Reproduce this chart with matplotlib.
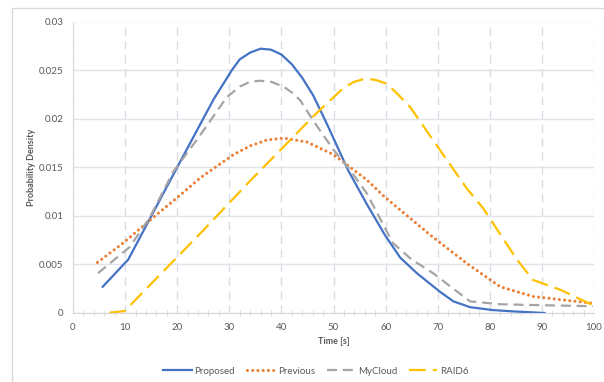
import matplotlib
matplotlib.use("Agg")
import matplotlib.pyplot as plt
from matplotlib.patches import Rectangle
from matplotlib.ticker import MultipleLocator, FuncFormatter

plt.rcParams['font.family'] = ['Lato', 'DejaVu Sans']

# values
proposed_x = [5.7, 10.6, 20, 27, 30.5, 32, 34, 36, 38, 40, 42, 44, 46.1, 48.7,
              52.8, 56.4, 59.9, 62.8, 66, 70.4, 73, 76.2, 80.6, 85, 90.5]
proposed_y = [0.0027, 0.0055, 0.0150, 0.0220, 0.0250, 0.0261, 0.0268, 0.0272, 0.0271,
              0.0266, 0.0256, 0.0242, 0.0224, 0.0195, 0.0147, 0.0112, 0.0080,
              0.0057, 0.0041, 0.0022, 0.0012, 0.0006, 0.0003, 0.00015, 0.0]

previous_x = [4.7, 9.6, 16, 20.5, 24.4, 30.8, 34, 37.2, 40.4, 44.9, 50, 56.4, 59.5,
              62.8, 69.1, 75.6, 82, 88.3, 94.8, 99.8]
previous_y = [0.0052, 0.0072, 0.0101, 0.0121, 0.0139, 0.0163, 0.0172, 0.0178, 0.0180,
              0.0176, 0.0163, 0.0137, 0.0121, 0.0106, 0.0078, 0.0051, 0.0027,
              0.0017, 0.0013, 0.0010]

mycloud_x = [4.8, 10.9, 14.7, 19.2, 24.4, 29.5, 32, 34, 36, 38, 40.4, 42, 43.6,
             46.1, 50, 53.2, 56.4, 61.4, 65, 69.1, 73, 76.2, 82, 90, 99.8]
mycloud_y = [0.0041, 0.0068, 0.0098, 0.0145, 0.0183, 0.0222, 0.0233, 0.0238, 0.0239,
             0.0238, 0.0233, 0.0227, 0.0219, 0.0198, 0.0168, 0.0147, 0.0123,
             0.0072, 0.0055, 0.0041, 0.0025, 0.0012, 0.0009, 0.0008, 0.0007]

raid6_x = [7, 9.9, 19.9, 25, 30.1, 34, 40.4, 46.8, 50, 52, 54, 56, 58, 60.2, 62,
           64.7, 70.4, 75.6, 78.7, 85.2, 88.3, 93.5, 99.8]
raid6_y = [0.00003, 0.0002, 0.0057, 0.0085, 0.0114, 0.0136, 0.0171, 0.0206, 0.0222,
           0.0232, 0.0238, 0.0241, 0.0240, 0.0236, 0.0227, 0.0212, 0.0168,
           0.0128, 0.0108, 0.0055, 0.0034, 0.0024, 0.0008]

fig = plt.figure(figsize=(6.04, 3.82), dpi=100)
# chart area border
fig.patches.append(Rectangle((12 / 604, -0.05), 1.0, 1 - 8 / 382 + 0.05,
                             transform=fig.transFigure, fill=False,
                             edgecolor='#D9D9D9', linewidth=1.0))

ax = fig.add_axes([73 / 604, 1 - 313 / 382, 521 / 604, 291.5 / 382])

ax.plot(proposed_x, proposed_y, color='#4472C4', lw=1.6, label='Proposed')
ax.plot(previous_x, previous_y, color='#ED7D31', lw=2.2, dash_capstyle='round',
        linestyle=(0, (0.01, 1.7)), label='Previous')
ax.plot(mycloud_x, mycloud_y, color='#A5A5A5', lw=1.6,
        linestyle=(0, (4.5, 2.6)), label='MyCloud')
ax.plot(raid6_x, raid6_y, color='#FFC000', lw=1.6,
        linestyle=(0, (7.5, 3.2)), label='RAID6')

ax.set_xlim(0, 100)
ax.set_ylim(0, 0.03)
ax.xaxis.set_major_locator(MultipleLocator(10))
ax.xaxis.set_minor_locator(MultipleLocator(2))
ax.yaxis.set_major_locator(MultipleLocator(0.005))
ax.yaxis.set_major_formatter(FuncFormatter(lambda v, p: '{:g}'.format(round(v, 3))))

ax.grid(axis='y', color='#E0E3EA', lw=1.0)
ax.grid(axis='x', color='#D8DCE4', lw=1.0, linestyle=(0, (6, 4)))
ax.set_axisbelow(True)

for s in ['top', 'right']:
    ax.spines[s].set_visible(False)
for s in ['left', 'bottom']:
    ax.spines[s].set_color('#D9D9D9')

ax.tick_params(axis='both', which='major', length=0, labelsize=7,
               labelcolor='#595959', pad=7)
ax.tick_params(axis='x', which='minor', direction='inout', length=4,
               color='#D9D9D9')

ax.set_xlabel('Time [s]', fontsize=6.5, fontweight='bold', color='#595959',
              labelpad=4)
ax.set_ylabel('Probability Density', fontsize=6.5, fontweight='bold',
              color='#595959', labelpad=2)

fig.legend(loc='center', bbox_to_anchor=(316 / 604, 1 - 371 / 382), ncol=4,
           frameon=False, fontsize=7, labelcolor='#595959', handlelength=2.9,
           handletextpad=0.3, columnspacing=1.2)

fig.savefig('out.png', dpi=100)
